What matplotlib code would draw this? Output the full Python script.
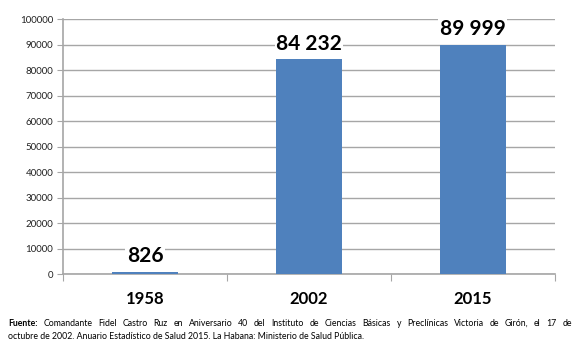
import numpy as np
import matplotlib.pyplot as plt

years = ['1958', '2002', '2015']
values = [826, 84232, 89999]
value_labels = ['826', '84 232', '89 999']
yticks = np.arange(0, 100001, 10000)

note_line1 = 'Comandante Fidel Castro Ruz en Aniversario 40 del Instituto de Ciencias Básicas y Preclínicas Victoria de Girón, el 17 de'
note_line2 = 'octubre de 2002. Anuario Estadístico de Salud 2015. La Habana: Ministerio de Salud Pública.'

plt.rcParams['font.family'] = ['Lato', 'DejaVu Sans']

fig = plt.figure(figsize=(5.8, 3.51), dpi=100)
ax = fig.add_axes([0.1086, 0.219, 0.848, 0.726])

x = np.arange(len(years))
bars = ax.bar(x, values, width=0.4, color='#4F81BD', zorder=3)

ax.set_xlim(-0.5, 2.5)
ax.set_ylim(0, 100000)
ax.set_yticks(yticks)
ax.set_yticklabels([str(v) for v in yticks], fontsize=7, color='#222222')
ax.grid(axis='y', color='#a6a6a6', linewidth=1, zorder=0)

# category ticks sit on the boundaries, labels in the middle
ax.set_xticks([-0.5, 0.5, 1.5, 2.5])
ax.set_xticklabels([])
ax.set_xticks(x, minor=True)
ax.set_xticklabels(years, minor=True, fontsize=12, fontweight='bold')
ax.tick_params(axis='x', which='major', length=5, color='#a6a6a6')
ax.tick_params(axis='x', which='minor', length=0, pad=12)
ax.tick_params(axis='y', length=4, color='#a6a6a6', pad=3)

for s in ['top', 'right']:
    ax.spines[s].set_visible(False)
for s in ['left', 'bottom']:
    ax.spines[s].set_color('#a6a6a6')
    ax.spines[s].set_linewidth(1.2)

for b, lab in zip(bars, value_labels):
    ax.annotate(lab, (b.get_x() + b.get_width() / 2, b.get_height()),
                xytext=(0, 4), textcoords='offset points', ha='center', va='bottom',
                fontsize=15, fontweight='bold', zorder=4,
                bbox=dict(facecolor='white', edgecolor='none', pad=1))

# footnote: first line justified to the full width
fs = 6.3
renderer = fig.canvas.get_renderer()
W = fig.bbox.width
words = [('Fuente:', 'bold')] + [(w, 'normal') for w in note_line1.split()]
arts = [fig.text(0, 0.072, w, fontsize=fs, fontweight=fw) for w, fw in words]
widths = [a.get_window_extent(renderer).width for a in arts]
x0, x1 = 8, 572
gap = (x1 - x0 - sum(widths)) / (len(arts) - 1)
pos = x0
for a, w in zip(arts, widths):
    a.set_x(pos / W)
    pos += w + gap
fig.text(x0 / W, 0.034, note_line2, fontsize=fs)

fig.savefig('out.png', dpi=100)
